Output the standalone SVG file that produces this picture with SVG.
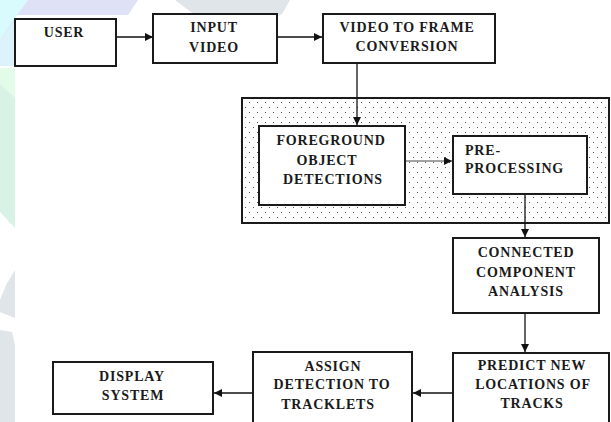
<svg xmlns="http://www.w3.org/2000/svg" width="611" height="422" viewBox="0 0 611 422">
  <defs>
    <pattern id="dots" x="0" y="0" width="8" height="10" patternUnits="userSpaceOnUse">
      <rect x="1" y="2" width="1" height="1" fill="#555"/>
      <rect x="5" y="7" width="1" height="1" fill="#555"/>
    </pattern>
    <marker id="arrow" viewBox="0 0 8 8" refX="8" refY="4" markerWidth="8" markerHeight="8" markerUnits="userSpaceOnUse" orient="auto">
      <path d="M0,0 L8,4 L0,8 Z" fill="#111"/>
    </marker>
  </defs>
  <style>
    .box { fill: #fff; stroke: #1a1a1a; stroke-width: 2; }
    .lbl { font-family: "Liberation Serif", "Times New Roman", serif; font-weight: bold; font-size: 14px; letter-spacing: 0.8px; fill: #1a1a1a; text-anchor: middle; }
    .left { text-anchor: start; }
    .conn { fill: none; stroke: #111; stroke-width: 1.3; marker-end: url(#arrow); }
    .thin { stroke: #444; stroke-width: 1; }
  </style>

  <!-- faint background shapes -->
  <g id="backdrop">
    <rect width="611" height="422" fill="#fff"/>
    <polygon points="0,0 138,0 128,15 15,15 15,66 0,66" fill="#dfe2f6"/>
    <polygon points="0,0 28,0 8,28 0,40" fill="#d9fbfd"/>
    <polygon points="0,40 15,20 15,66 0,66" fill="#dcf3fb"/>
    <polygon points="0,68 15,68 15,228 0,212" fill="#d9f2e6"/>
    <polygon points="0,68 15,68 15,98 0,84" fill="#e3fbe9"/>
    <polygon points="175,0 290,0 282,14 250,30 215,30" fill="#e0e5e9"/>
    <polygon points="0,300 6,285 15,270 15,318 0,312" fill="#e0e5e9"/>
    <polygon points="0,330 12,332 15,345 15,422 0,422" fill="#e0e5e9"/>
  </g>

  <!-- dotted processing block -->
  <g id="stage">
    <rect x="242" y="98" width="367" height="125" fill="url(#dots)" stroke="#1a1a1a" stroke-width="2"/>
  </g>

  <g id="connectors">
    <line class="conn" x1="116" y1="37" x2="153" y2="37"/>
    <line class="conn" x1="277" y1="37" x2="322" y2="37"/>
    <line class="conn" x1="357" y1="63" x2="357" y2="125"/>
    <line class="conn thin" x1="405" y1="161" x2="452" y2="161"/>
    <line class="conn" x1="525" y1="194" x2="525" y2="237"/>
    <line class="conn" x1="525" y1="313" x2="525" y2="352"/>
    <line class="conn" x1="453" y1="393" x2="413" y2="393"/>
    <line class="conn" x1="253" y1="393" x2="214" y2="393"/>
  </g>

  <g id="user">
    <rect class="box" x="15" y="19" width="101" height="47"/>
    <text class="lbl" x="64" y="37">USER</text>
  </g>

  <g id="input-video">
    <rect class="box" x="153" y="14" width="124" height="49"/>
    <text class="lbl" x="214" y="32">INPUT</text>
    <text class="lbl" x="214" y="52">VIDEO</text>
  </g>

  <g id="frame-conversion">
    <rect class="box" x="323" y="14" width="172" height="49"/>
    <text class="lbl" x="407" y="32">VIDEO TO FRAME</text>
    <text class="lbl" x="407" y="51">CONVERSION</text>
  </g>

  <g id="foreground">
    <rect class="box" x="259" y="126" width="146" height="79"/>
    <text class="lbl" x="331" y="145">FOREGROUND</text>
    <text class="lbl" x="327" y="165">OBJECT</text>
    <text class="lbl" x="333" y="184">DETECTIONS</text>
  </g>

  <g id="preprocessing">
    <rect class="box" x="453" y="136" width="134" height="58"/>
    <text class="lbl left" x="465" y="155">PRE-</text>
    <text class="lbl left" x="465" y="173">PROCESSING</text>
  </g>

  <g id="connected-component">
    <rect class="box" x="453" y="238" width="146" height="75"/>
    <text class="lbl" x="526" y="257">CONNECTED</text>
    <text class="lbl" x="526" y="277">COMPONENT</text>
    <text class="lbl" x="526" y="296">ANALYSIS</text>
  </g>

  <g id="predict">
    <rect class="box" x="453" y="353" width="156" height="80"/>
    <text class="lbl" x="532" y="370">PREDICT NEW</text>
    <text class="lbl" x="533" y="389">LOCATIONS OF</text>
    <text class="lbl" x="532" y="408">TRACKS</text>
  </g>

  <g id="assign">
    <rect class="box" x="253" y="352" width="159" height="80"/>
    <text class="lbl" x="333" y="371">ASSIGN</text>
    <text class="lbl" x="332" y="389">DETECTION TO</text>
    <text class="lbl" x="328" y="409">TRACKLETS</text>
  </g>

  <g id="display">
    <rect class="box" x="53" y="362" width="160" height="52"/>
    <text class="lbl" x="132" y="381">DISPLAY</text>
    <text class="lbl" x="133" y="400">SYSTEM</text>
  </g>
</svg>
